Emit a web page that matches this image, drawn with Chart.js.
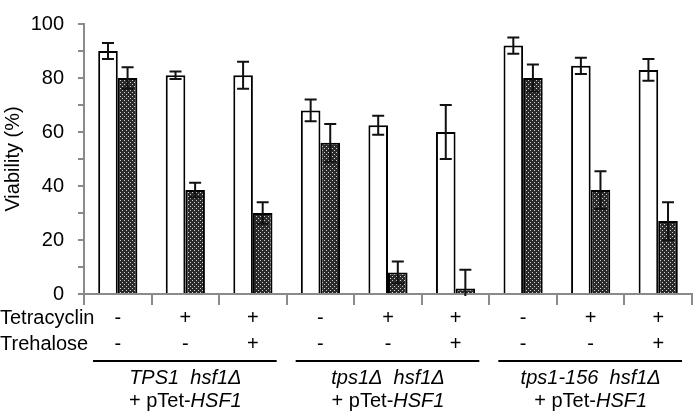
<!DOCTYPE html>
<html>
<head>
<meta charset="utf-8">
<script src="https://cdn.jsdelivr.net/npm/chart.js@4.4.1/dist/chart.umd.min.js"></script>
<style>
  html, body { margin: 0; padding: 0; background: #fff; }
  #wrap { width: 693px; height: 411px; }
</style>
</head>
<body>
<div id="wrap"><canvas id="chart" width="693" height="411"></canvas></div>
<script>
const categories = ['1', '2', '3', '4', '5', '6', '7', '8', '9'];
const whiteValues = [90, 81, 81, 68, 62.5, 60, 92, 84.5, 83];
const whiteErrors = [3, 1.4, 5, 4, 3.5, 10, 3, 3, 4];
const darkValues = [80, 38.5, 30, 56, 8, 2, 80, 38.5, 27];
const darkErrors = [4, 2.7, 4, 7, 4, 7, 5, 7, 7];
const tetracyclin = ['-', '+', '+', '-', '+', '+', '-', '+', '+'];
const trehalose = ['-', '-', '+', '-', '-', '+', '-', '-', '+'];
const groupNames = ['TPS1  hsf1\u0394', 'tps1\u0394  hsf1\u0394', 'tps1-156  hsf1\u0394'];
const yTicks = [0, 20, 40, 60, 80, 100];

const FONT = '"Liberation Sans", Arial, sans-serif';
const FS = 20;

// dotted crosshatch fill for the dark bars
function makePattern() {
    const c = document.createElement('canvas');
    c.width = 4; c.height = 4;
    const g = c.getContext('2d');
    g.fillStyle = '#2a2a2a';
    g.fillRect(0, 0, 4, 4);
    g.fillStyle = '#d0d0d0';
    g.fillRect(0, 0, 1, 1);
    g.fillRect(2, 2, 1, 1);
    return g.createPattern(c, 'repeat');
}

const errorBars = {
    id: 'errorBars',
    afterDatasetsDraw(chart) {
        const ctx = chart.ctx;
        const y = chart.scales.y;
        const errs = [whiteErrors, darkErrors];
        ctx.save();
        ctx.strokeStyle = '#111';
        ctx.lineWidth = 2;
        errs.forEach((err, di) => {
            const meta = chart.getDatasetMeta(di);
            const vals = chart.data.datasets[di].data;
            meta.data.forEach((bar, i) => {
                const hi = vals[i] + err[i];
                const lo = vals[i] - err[i];
                const yt = y.getPixelForValue(hi);
                const yb = y.getPixelForValue(Math.max(lo, 0));
                ctx.beginPath();
                ctx.moveTo(bar.x, yt);
                ctx.lineTo(bar.x, lo > 0 ? yb : yb + 2);
                ctx.moveTo(bar.x - 6, yt);
                ctx.lineTo(bar.x + 6, yt);
                if (lo > 0) {
                    ctx.moveTo(bar.x - 6, yb);
                    ctx.lineTo(bar.x + 6, yb);
                }
                ctx.stroke();
            });
        });
        ctx.restore();
    }
};

const conditionTable = {
    id: 'conditionTable',
    afterDraw(chart) {
        const ctx = chart.ctx;
        const x = chart.scales.x;
        const step = x.getPixelForValue(1) - x.getPixelForValue(0);
        ctx.save();
        ctx.fillStyle = '#000';
        ctx.font = FS + 'px ' + FONT;
        ctx.textBaseline = 'middle';
        ctx.textAlign = 'left';
        ctx.fillText('Tetracyclin', 0, 318);
        ctx.fillText('Trehalose', 0, 344);
        ctx.textAlign = 'center';
        categories.forEach((c, i) => {
            const cx = x.getPixelForValue(i);
            ctx.fillText(tetracyclin[i], cx, 318);
            ctx.fillText(trehalose[i], cx, 344);
        });
        groupNames.forEach((name, g) => {
            const left = x.getPixelForValue(g * 3) - step / 2;
            const right = x.getPixelForValue(g * 3 + 2) + step / 2;
            const cx = x.getPixelForValue(g * 3 + 1);
            ctx.strokeStyle = '#000';
            ctx.lineWidth = 2;
            ctx.beginPath();
            ctx.moveTo(left + 9, 361);
            ctx.lineTo(right - 10, 361);
            ctx.stroke();
            ctx.textAlign = 'center';
            ctx.font = 'italic ' + FS + 'px ' + FONT;
            ctx.fillText(name, cx, 378);
            // second line: "+ pTet-" upright, "HSF1" italic
            ctx.font = FS + 'px ' + FONT;
            const a = '+ pTet-';
            const wa = ctx.measureText(a).width;
            ctx.font = 'italic ' + FS + 'px ' + FONT;
            const wb = ctx.measureText('HSF1').width;
            const start = cx - (wa + wb) / 2;
            ctx.textAlign = 'left';
            ctx.font = FS + 'px ' + FONT;
            ctx.fillText(a, start, 401);
            ctx.font = 'italic ' + FS + 'px ' + FONT;
            ctx.fillText('HSF1', start + wa, 401);
        });
        ctx.restore();
    }
};

new Chart(document.getElementById('chart'), {
    type: 'bar',
    data: {
        labels: categories,
        datasets: [{
            data: whiteValues,
            backgroundColor: '#ffffff',
            borderColor: '#000',
            borderWidth: 2,
            borderSkipped: 'start'
        }, {
            data: darkValues,
            backgroundColor: makePattern(),
            borderColor: '#000',
            borderWidth: 2,
            borderSkipped: 'start'
        }]
    },
    options: {
        responsive: false,
        animation: false,
        events: [],
        layout: { padding: { top: 9, right: 1, bottom: 0, left: 0 } },
        datasets: { bar: { categoryPercentage: 0.58, barPercentage: 1 } },
        plugins: { legend: { display: false }, tooltip: { enabled: false } },
        scales: {
            x: {
                grid: { offset: true, drawOnChartArea: false, color: '#8a8a8a', lineWidth: 2, tickLength: 11 },
                border: { color: '#8a8a8a', width: 2 },
                ticks: { display: false },
                afterFit(scale) { scale.height = 117; }
            },
            y: {
                min: 0,
                max: 100,
                grid: { drawOnChartArea: false, color: '#8a8a8a', lineWidth: 2, tickLength: 6 },
                border: { color: '#8a8a8a', width: 2 },
                ticks: {
                    stepSize: 10,
                    padding: 14,
                    color: '#000',
                    font: { family: FONT, size: FS, lineHeight: 1 },
                    callback: v => yTicks.includes(v) ? String(v) : ''
                },
                title: {
                    display: true,
                    text: 'Viability (%)',
                    color: '#000',
                    font: { family: FONT, size: FS },
                    padding: { top: 1, bottom: 0 }
                },
                afterFit(scale) { scale.width = 84; }
            }
        }
    },
    plugins: [errorBars, conditionTable]
});
</script>
</body>
</html>
